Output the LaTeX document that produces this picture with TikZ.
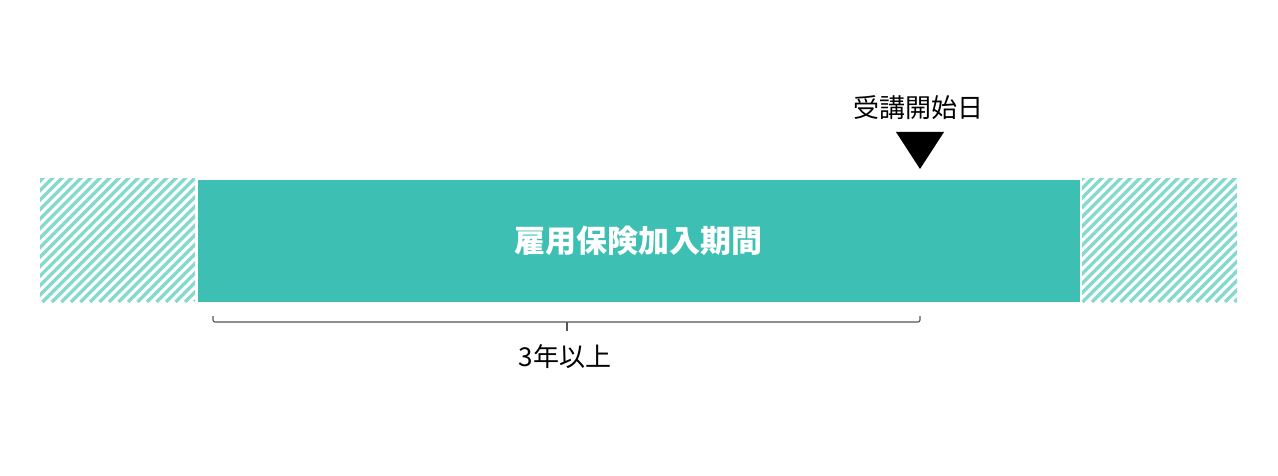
\documentclass[tikz,border=0pt]{standalone}
\usepackage{fontspec}
\newfontfamily\cjk{Noto Sans CJK JP}
\definecolor{teal1}{HTML}{3DBFB4}
\definecolor{hatch}{HTML}{86D9CF}
\definecolor{brace}{HTML}{555555}
\begin{document}
\begin{tikzpicture}[x=1pt,y=-1pt,
  lbl/.style={inner sep=0pt, font=\cjk\fontsize{26}{30}\selectfont, text=black},
  bartext/.style={inner sep=0pt, font=\cjk\bfseries\fontsize{31}{36}\selectfont, text=white},
  stripe/.style={draw=hatch, line width=3.3pt},
  bracel/.style={draw=brace, line width=1.1pt}]
\useasboundingbox (0,0) rectangle (1278,476);
\fill[white] (0,0) rectangle (1278,476);
% hatched blocks
\begin{scope}
\clip (40,179) rectangle (195,302);
\foreach \x in {-100,-90.5,...,210} \draw[stripe] (\x,302) -- ++(140,-140);
\end{scope}
\begin{scope}
\clip (1082,179) rectangle (1237,302);
\foreach \x in {940,949.5,...,1250} \draw[stripe] (\x,302) -- ++(140,-140);
\end{scope}
% main bar
\node[fill=teal1, minimum width=882pt, minimum height=122pt, inner sep=0pt, anchor=north west] (bar) at (198,180) {};
\node[bartext] (bartxt) at (638,241) {雇用保険加入期間};
% marker
\node[lbl] (start) at (918,108) {受講開始日};
\fill[black] (896,132) -- (944,132) -- (920,169) -- cycle;
% brace
\coordinate (bl) at (213,316);
\coordinate (br) at (920,316);
\coordinate (bm) at (567,322);
\coordinate (bt) at (567,331);
\draw[bracel, rounded corners=2pt] (bl) -- (213,322) -- (920,322) -- (br);
\draw[bracel] (bm) -- (bt);
\node[lbl] (dur) at (565,357) {3年以上};
\end{tikzpicture}
\end{document}
